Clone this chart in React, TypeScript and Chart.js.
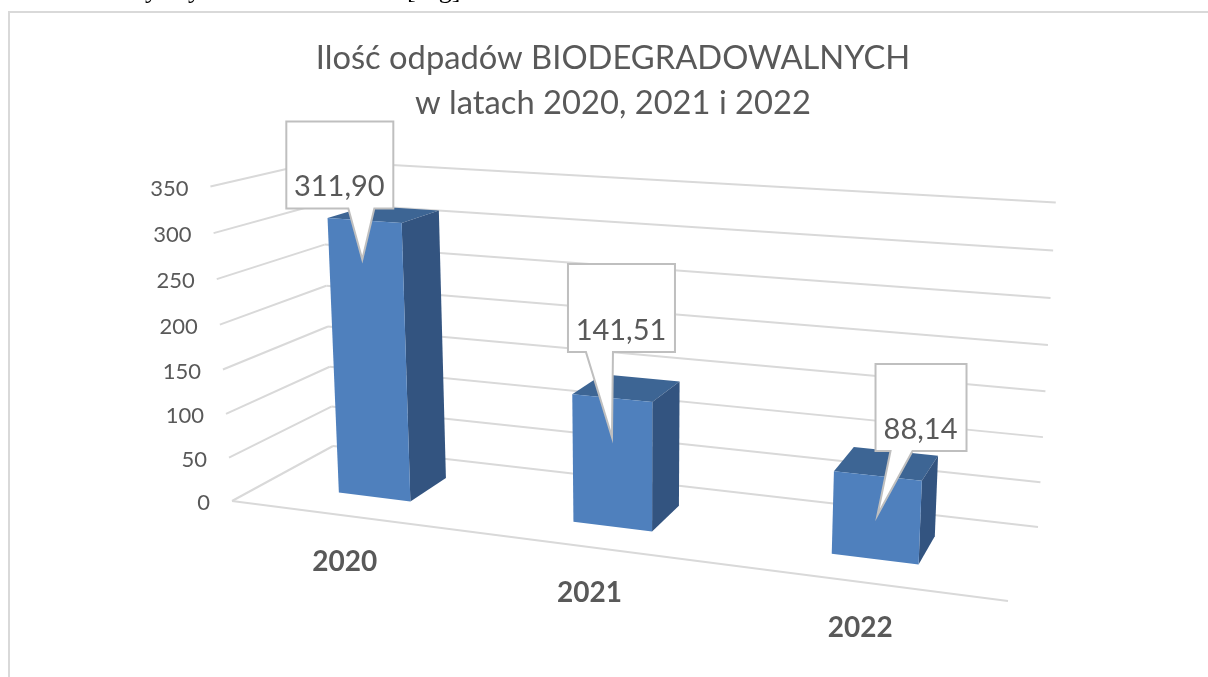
import React, { useEffect, useRef } from "react";
import { Chart, registerables } from "chart.js";

Chart.register(...registerables);

const categories = ["2020", "2021", "2022"];
const values = [311.9, 141.51, 88.14];
const axisMax = 350;
const axisStep = 50;
const titleLines = ["Ilość odpadów BIODEGRADOWALNYCH", "w latach 2020, 2021 i 2022"];

const FONT = "Lato, Carlito, sans-serif";
const TEXT = "#595959";
const GRID = "#d9d9d9";
const FRONT = "#4f80bd";
const TOP = "#3d6594";
const SIDE = "#335480";

// Perspective camera: floor corners and the vertical vanishing point.
const floor = { fl: [232, 501], fr: [1008, 601], br: [1038, 527], bl: [333, 446] };
const vanish = [640, 7800];
const lift = -0.0413;
const depthFront = 0.3;
const depthBack = 0.7;
const wallLean = 4;
const barShift = -2;

// Callout placement relative to the pointer tip, one entry per category.
const callouts = [
  { sx: -2, dx: -76, dy: -138, w: 107, h: 87, b0: -14, b1: 12, tx: -23, ty: -73 },
  { sx: 0, dx: -44, dy: -173, w: 107, h: 88, b0: -26, b1: 1, tx: 9, ty: -106 },
  { sx: 0, dx: -2, dy: -151, w: 91, h: 87, b0: 13, b1: 35, tx: 43, ty: -85 },
];

function makeProjection() {
  const { fl, fr, br, bl } = floor;
  const dx1 = fr[0] - br[0], dx2 = bl[0] - br[0], sx = fl[0] - fr[0] + br[0] - bl[0];
  const dy1 = fr[1] - br[1], dy2 = bl[1] - br[1], sy = fl[1] - fr[1] + br[1] - bl[1];
  const den = dx1 * dy2 - dx2 * dy1;
  const g = (sx * dy2 - dx2 * sy) / den;
  const h = (dx1 * sy - sx * dy1) / den;
  const a = fr[0] - fl[0] + g * fr[0], b = bl[0] - fl[0] + h * bl[0];
  const d = fr[1] - fl[1] + g * fr[1], e = bl[1] - fl[1] + h * bl[1];
  return (u: number, v: number, w: number): [number, number] => {
    const k = lift * w;
    const q = 1 + g * u + h * v + k;
    return [
      (a * u + b * v + fl[0] + k * vanish[0]) / q,
      (d * u + e * v + fl[1] + k * vanish[1]) / q,
    ];
  };
}
const project = makeProjection();

function poly(ctx: CanvasRenderingContext2D, pts: [number, number][], fill: string) {
  ctx.beginPath();
  pts.forEach((p, i) => (i ? ctx.lineTo(p[0], p[1]) : ctx.moveTo(p[0], p[1])));
  ctx.closePath();
  ctx.fillStyle = fill;
  ctx.fill();
}

function seg(ctx: CanvasRenderingContext2D, a: [number, number], b: [number, number]) {
  ctx.beginPath();
  ctx.moveTo(a[0], a[1]);
  ctx.lineTo(b[0], b[1]);
  ctx.stroke();
}

const scene3d = {
  id: "scene3d",
  beforeDraw(chart: any) {
    const { ctx } = chart;
    ctx.save();
    ctx.strokeStyle = GRID;
    ctx.lineWidth = 2;
    ctx.beginPath();
    ctx.moveTo(9, 680);
    ctx.lineTo(9, 12);
    ctx.lineTo(1210, 12);
    ctx.stroke();
    ctx.fillStyle = "#000";
    ctx.font = '26px "Liberation Serif", serif';
    ctx.textBaseline = "alphabetic";
    ctx.fillText("y", 145, -2);
    ctx.fillText("y", 188, -2);
    ctx.fillText("[Mg]", 407, -2);
    ctx.restore();
  },
  afterDatasetsDraw(chart: any) {
    const { ctx, chartArea: ca, scales } = chart;
    const yScale = scales.y;
    const toW = (py: number) => (ca.bottom - py) / (ca.bottom - ca.top);
    const toU = (px: number) => (px + barShift - ca.left) / (ca.right - ca.left);

    ctx.save();
    // walls and floor grid
    ctx.strokeStyle = GRID;
    ctx.lineWidth = 2;
    ctx.lineCap = "butt";
    yScale.ticks.forEach((t: any) => {
      const w = toW(yScale.getPixelForValue(t.value));
      const p = project(0, 0, w);
      const front: [number, number] = [p[0] - wallLean * w, p[1]];
      const corner = project(0, 1, w);
      seg(ctx, front, corner);
      seg(ctx, corner, project(1, 1, w));
      ctx.fillStyle = TEXT;
      ctx.font = `22px ${FONT}`;
      ctx.textAlign = "right";
      ctx.textBaseline = "middle";
      ctx.fillText(String(t.value), front[0] - 22, front[1] + 2);
    });
    seg(ctx, project(0, 0, 0), project(1, 0, 0));

    const meta = chart.getDatasetMeta(0);
    meta.data.forEach((bar: any, i: number) => {
      const half = bar.width / 2;
      const u0 = toU(bar.x - half);
      const u1 = toU(bar.x + half);
      const uc = toU(bar.x);
      const w = toW(bar.y);
      const P = (u: number, v: number, z: number) => project(u, v, z);
      poly(ctx, [P(u0, depthFront, w), P(u1, depthFront, w), P(u1, depthBack, w), P(u0, depthBack, w)], TOP);
      poly(ctx, [P(u1, depthFront, 0), P(u1, depthBack, 0), P(u1, depthBack, w), P(u1, depthFront, w)], SIDE);
      poly(ctx, [P(u0, depthFront, 0), P(u1, depthFront, 0), P(u1, depthFront, w), P(u0, depthFront, w)], FRONT);

      // category label under the front edge
      const base = project(uc, 0, 0);
      ctx.fillStyle = TEXT;
      ctx.font = `bold 28px ${FONT}`;
      ctx.textAlign = "center";
      ctx.textBaseline = "middle";
      ctx.fillText(chart.data.labels[i], base[0], base[1] + 46);
    });

    // callouts on top of every bar
    meta.data.forEach((bar: any, i: number) => {
      const c = callouts[i];
      const top = project(toU(bar.x), depthFront, toW(bar.y));
      const tx = top[0] + c.sx;
      const ty = top[1] + 39;
      const L = tx + c.dx, T = ty + c.dy, R = L + c.w, B = T + c.h;
      ctx.beginPath();
      ctx.moveTo(L, T);
      ctx.lineTo(R, T);
      ctx.lineTo(R, B);
      ctx.lineTo(tx + c.b1, B);
      ctx.lineTo(tx, ty);
      ctx.lineTo(tx + c.b0, B);
      ctx.lineTo(L, B);
      ctx.closePath();
      ctx.fillStyle = "#ffffff";
      ctx.fill();
      ctx.strokeStyle = "#bfbfbf";
      ctx.lineWidth = 2;
      ctx.stroke();
      ctx.fillStyle = TEXT;
      ctx.font = `29px ${FONT}`;
      ctx.textAlign = "center";
      ctx.textBaseline = "middle";
      const label = values[i].toFixed(2).replace(".", ",");
      ctx.fillText(label, tx + c.tx, ty + c.ty);
    });
    ctx.restore();
  },
};

export default function App() {
  const ref = useRef<HTMLCanvasElement>(null);
  useEffect(() => {
    if (!ref.current) return;
    const chart = new Chart(ref.current, {
      type: "bar",
      data: {
        labels: categories,
        datasets: [
          {
            data: values,
            backgroundColor: "transparent",
            borderWidth: 0,
            barPercentage: 0.315,
            categoryPercentage: 1,
          },
        ],
      },
      options: {
        responsive: false,
        animation: false,
        layout: { padding: { left: 18, top: 0 } },
        scales: {
          x: { display: false, offset: true },
          y: { display: false, min: 0, max: axisMax, ticks: { stepSize: axisStep } },
        },
        plugins: {
          legend: { display: false },
          tooltip: { enabled: false },
          title: {
            display: true,
            text: titleLines,
            color: TEXT,
            font: { family: FONT, size: 32.7, weight: "normal", lineHeight: 1.38 },
            padding: { top: 36, bottom: 0 },
          },
        },
      },
      plugins: [scene3d],
    } as any);
    return () => chart.destroy();
  }, []);
  return (
    <div style={{ position: "absolute", left: 0, top: 0, width: 1208, height: 677 }}>
      <canvas ref={ref} width={1208} height={677} style={{ display: "block" }} />
    </div>
  );
}
